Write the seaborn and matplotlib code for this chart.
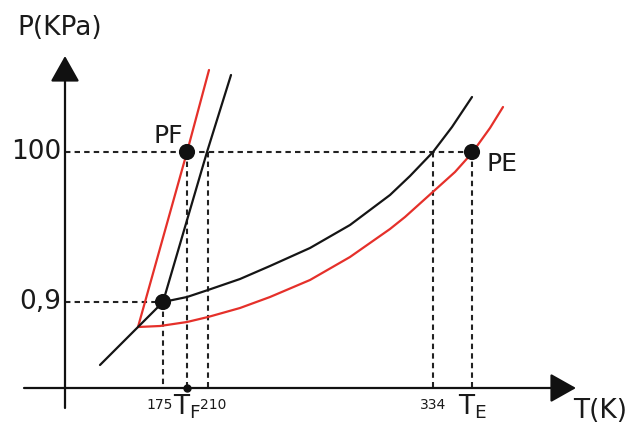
import matplotlib
matplotlib.use("Agg")
import matplotlib.pyplot as plt
import seaborn as sns
import pandas as pd

# schematic coordinates (x grows right, y grows down)
sub_T = [100, 138, 163]
sub_P = [365, 327, 302]

fus_T = [163, 207, 231]
fus_P = [302, 152, 75]

vap_T = [163, 187, 208, 240, 270, 310, 350, 390, 410, 433, 452, 472]
vap_P = [302, 297, 290, 279, 266, 248, 225, 195, 176, 152, 127, 97]

fus2_T = [138, 187, 209]
fus2_P = [327, 152, 70]

vap2_T = [138, 160, 187, 208, 240, 270, 310, 350, 390, 405, 435, 455, 472, 490, 503]
vap2_P = [327, 326, 322, 317, 308, 297, 280, 257, 229, 217, 190, 172, 153, 128, 107]

# marked points: triple point, PF, PE
pts_T = [163, 187, 472]
pts_P = [302, 152, 152]

# reference guides
p_levels = [152, 302]
p_labels = ["100", "0,9"]
p_ends = [472, 163]
t_marks = [163, 187, 208, 433, 472]
t_tops = [302, 152, 152, 152, 152]
t_labels = ["175", "$T_F$", "210", "334", "$T_E$"]

sns.set_style("white")
plt.rcParams["font.family"] = ["DejaVu Sans"]
plt.rcParams["mathtext.default"] = "regular"

fig = plt.figure(figsize=(6.33, 4.25), dpi=100)
ax = fig.add_axes([0, 0, 1, 1])

red = "#e5302a"
dash = (0, (2.6, 2.0))

# guide lines
for y, x1 in zip(p_levels, p_ends):
    ax.plot([65, x1], [y, y], color="#222222", lw=1.5, linestyle=dash, zorder=1)
for x, y0 in zip(t_marks, t_tops):
    ax.plot([x, x], [y0, 388], color="#222222", lw=1.5, linestyle=dash, zorder=1)

# curves
black_curves = [(sub_T, sub_P), (fus_T, fus_P), (vap_T, vap_P)]
red_curves = [(fus2_T, fus2_P), (vap2_T, vap2_P)]
for T, P in black_curves:
    sns.lineplot(data=pd.DataFrame({"T": T, "P": P}), x="T", y="P", sort=False,
                 color="#151515", lw=1.6, solid_joinstyle="round", ax=ax, zorder=3)
for T, P in red_curves:
    sns.lineplot(data=pd.DataFrame({"T": T, "P": P}), x="T", y="P", sort=False,
                 color=red, lw=1.6, solid_joinstyle="round", ax=ax, zorder=2)

sns.scatterplot(x=pts_T, y=pts_P, s=135, color="#111111", edgecolor="none", ax=ax, zorder=4)
ax.plot([187], [388], "o", color="#111111", ms=5, zorder=5)
ax.axis("off")
ax.set_xlim(0, 633)
ax.set_ylim(425, 0)

# axes with arrow heads
arrow = dict(arrowstyle="-|>,head_length=1.6,head_width=0.9", color="#111111",
             lw=1.6, mutation_scale=10, shrinkA=0, shrinkB=0)
ax.annotate("", xy=(576, 388), xytext=(24, 388), arrowprops=arrow)
ax.annotate("", xy=(65, 56), xytext=(65, 408), arrowprops=arrow)

# texts
tc = "#1a1a1a"
ax.text(60, 28, "P(KPa)", fontsize=19, ha="center", va="center", color=tc)
ax.text(600, 411, "T(K)", fontsize=19, ha="center", va="center", color=tc)
for y, lab in zip(p_levels, p_labels):
    ax.text(61, y, lab, fontsize=19, ha="right", va="center", color=tc)
ax.text(168, 136, "PF", fontsize=18, ha="center", va="center", color=tc)
ax.text(502, 164, "PE", fontsize=18, ha="center", va="center", color=tc)

for x, lab in zip(t_marks, t_labels):
    if lab.startswith("$"):
        ax.text(x, 407, lab, fontsize=19, ha="center", va="center", color=tc)
    else:
        dx = {"175": -3, "210": 5, "334": 0}[lab]
        ax.text(x + dx, 405, lab, fontsize=10, ha="center", va="center", color=tc)

fig.savefig("out.png", dpi=100)
